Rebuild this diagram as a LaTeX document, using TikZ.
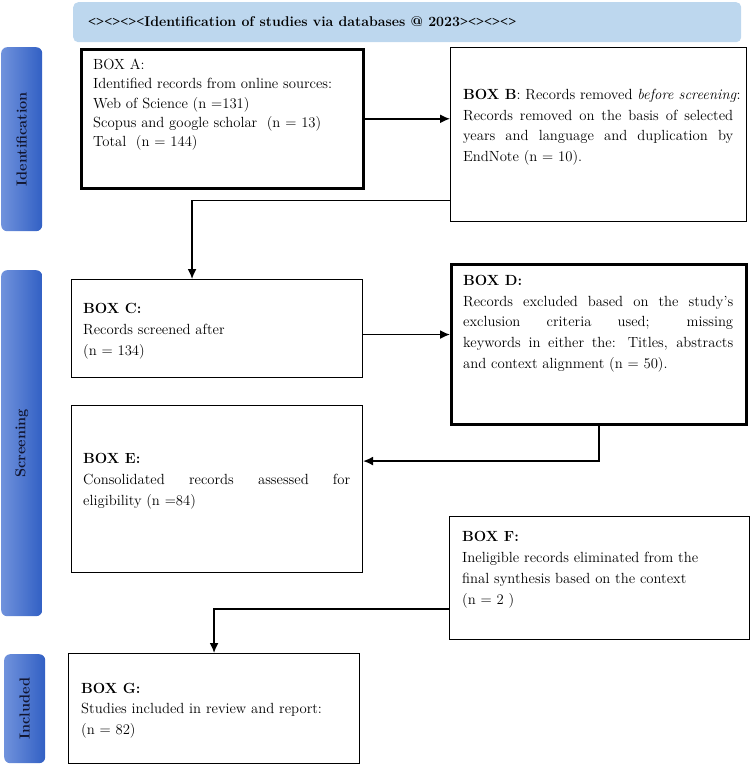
\documentclass[tikz,border=0pt]{standalone}
\usepackage{fontspec}
\newfontfamily\angfont{Liberation Serif}
\usetikzlibrary{arrows.meta,calc}
\definecolor{titlebg}{RGB}{189,215,238}
\definecolor{sideL}{RGB}{112,146,220}
\definecolor{sideR}{RGB}{50,96,196}
\definecolor{sidetxt}{RGB}{18,22,48}
\tikzset{
  thinbox/.style={draw=black, line width=1.1pt, rectangle, inner sep=0pt, anchor=north west},
  thickbox/.style={draw=black, line width=2.6pt, rectangle, inner sep=0pt, anchor=north west},
  boxtext/.style={anchor=north west, inner sep=0pt, align=left, font=\fontsize{14.7}{20.8}\selectfont},
  side/.style={rectangle, rounded corners=6pt, left color=sideL, right color=sideR, inner sep=0pt, anchor=north west},
  sidetext/.style={rotate=90, inner sep=0pt, font=\bfseries\fontsize{14.5}{16}\selectfont, text=sidetxt},
  titlebar/.style={rectangle, rounded corners=5pt, fill=titlebg, inner sep=0pt, anchor=north west},
  arr/.style={line width=1.6pt, -{Latex[length=10pt,width=9pt]}},
}
\begin{document}
\begin{tikzpicture}[x=1pt,y=-1pt]
\useasboundingbox (0,0) rectangle (751,765);
% title
\node[titlebar, minimum width=668pt, minimum height=40pt] (T) at (73,2) {};
\node[anchor=base west, inner sep=0pt, font=\bfseries\fontsize{14.1}{17}\selectfont] (Tt) at (88,27)
  {{\angfont <><><><}Identification of studies via databases @ 2023{\angfont ><><><>}};
% sidebars
\node[side, minimum width=41pt, minimum height=184pt] (S1) at (1,47) {};
\node[sidetext] (S1t) at (S1.center) {Identification};
\node[side, minimum width=41pt, minimum height=346pt] (S2) at (1,270) {};
\node[sidetext] (S2t) at (S2.center) {Screening};
\node[side, minimum width=41pt, minimum height=109pt] (S3) at (4,654) {};
\node[sidetext] (S3t) at (S3.center) {Included};
% boxes
\node[thickbox, minimum width=282pt, minimum height=139pt] (A) at (80,48) {};
\node[boxtext, font=\fontsize{14.7}{19.3}\selectfont] (At) at (93,59)
  {BOX A:\\ Identified records from online sources:\\ Web of Science (n =131)\\ Scopus and google scholar~~(n = 13)\\ Total~~(n = 144)};
\node[thinbox, minimum width=296pt, minimum height=174pt] (B) at (450,47) {};
\node[boxtext, font=\fontsize{14.7}{20.7}\selectfont] (Bt) at (463,89)
  {\textbf{BOX B}: Records removed \textit{before screening}:\\
   \makebox[270pt][s]{Records removed on the basis of selected}\\
   \makebox[270pt][s]{years and language and duplication by}\\
   EndNote (n = 10).};
\node[thinbox, minimum width=291pt, minimum height=98pt] (C) at (71,279) {};
\node[boxtext, font=\fontsize{14.7}{21}\selectfont] (Ct) at (83,303)
  {\textbf{BOX C:}\\ Records screened after\\ (n = 134)};
\node[thickbox, minimum width=295pt, minimum height=160pt] (D) at (450,263) {};
\node[boxtext, font=\fontsize{14.7}{20.7}\selectfont] (Dt) at (463,275)
  {\textbf{BOX D:}\\
   \makebox[270pt][s]{Records excluded based on the study’s}\\
   \makebox[270pt][s]{exclusion criteria used; missing}\\
   \makebox[270pt][s]{keywords in either the: Titles, abstracts}\\
   and context alignment (n = 50).};
\node[thinbox, minimum width=291pt, minimum height=167pt] (E) at (71,405) {};
\node[boxtext, font=\fontsize{14.7}{21}\selectfont] (Et) at (83,453)
  {\textbf{BOX E:}\\
   \makebox[267pt][s]{Consolidated records assessed for}\\
   eligibility (n =84)};
\node[thinbox, minimum width=300pt, minimum height=123pt] (F) at (449,516) {};
\node[boxtext, font=\fontsize{14.7}{21}\selectfont] (Ft) at (462,531)
  {\textbf{BOX F:}\\ Ineligible records eliminated from the\\ final synthesis based on the context\\ (n = 2 )};
\node[thinbox, minimum width=291pt, minimum height=110pt] (G) at (68,653) {};
\node[boxtext, font=\fontsize{14.7}{20.5}\selectfont] (Gt) at (81,683)
  {\textbf{BOX G:}\\ Studies included in review and report:\\ (n = 82)};
% connectors
\draw[arr] (A.east) -- (A.east -| B.west);
\draw[arr] ([yshift=-66pt]B.west) -| ([xshift=-25pt]C.north);
\draw[arr] ([yshift=-6pt]C.east) -- ([yshift=-6pt]C.east -| D.west);
\draw[arr] (D.south) |- ([yshift=28pt]E.east);
\draw[arr] ([yshift=-31pt]F.west) -| (G.north);
\end{tikzpicture}
\end{document}
